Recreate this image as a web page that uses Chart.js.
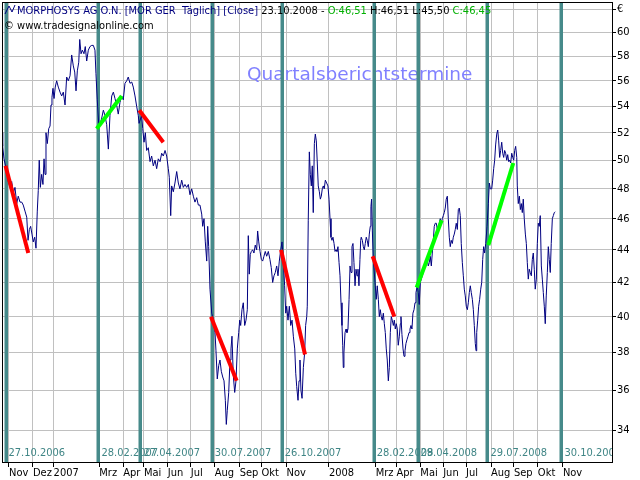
<!DOCTYPE html>
<html><head><meta charset="utf-8">
<script src="https://cdn.jsdelivr.net/npm/chart.js@4"></script>
<style>html,body{margin:0;padding:0;background:#fff}canvas{display:block}</style>
</head><body>
<canvas id="c" width="640" height="480"></canvas>
<script>
// Trading-day index (0 = 01.11.2006) and close prices in EUR
const priceDay = [-6.4,-5.8,-4.6,-2.1,-0.6,0.9,2.5,4.0,5.5,7.1,8.5,10.1,11.7,13.1,14.7,16.3,17.5,18.7,19.9,21.1,22.3,23.6,24.8,26.0,26.9,27.8,28.8,30.0,31.2,32.2,33.1,34.0,35.2,36.5,37.7,38.6,39.5,40.4,41.4,42.5,43.8,45.3,46.9,48.4,49.9,51.5,53.0,54.5,56.1,57.6,59.1,60.4,61.6,62.8,64.1,65.0,66.2,67.4,68.9,70.1,71.4,72.9,74.4,76.0,77.5,79.0,79.9,81.1,82.4,83.6,85.2,86.7,88.2,89.8,91.3,92.8,94.4,95.9,97.4,98.9,100.4,102.0,103.6,105.0,106.6,108.2,109.6,111.2,112.8,114.2,115.8,117.3,118.8,119.5,121.9,122.9,124.1,125.3,126.5,128.0,129.6,131.1,132.6,134.2,135.7,137.2,138.8,140.3,141.8,143.4,144.9,146.4,147.3,148.6,149.5,151.0,152.5,154.1,155.6,157.1,158.7,160.2,161.7,163.3,164.8,166.3,167.9,169.4,170.9,172.5,174.0,175.5,177.1,178.0,179.2,180.4,181.7,182.6,183.5,184.7,186.3,187.8,189.3,190.2,191.4,192.7,193.9,195.1,196.4,197.6,198.8,199.7,200.6,201.9,203.1,204.0,204.9,206.1,207.4,208.6,209.8,211.1,212.0,212.9,214.1,215.3,216.6,217.8,219.0,219.9,220.8,221.7,222.7,223.9,225.1,226.3,227.6,228.5,229.5,230.7,231.9,233.1,234.3,235.5,236.8,238.3,239.8,241.0,242.3,243.5,244.7,246.0,247.2,248.4,249.7,250.9,252.1,253.3,254.3,255.2,256.4,257.6,258.9,260.1,261.3,262.6,263.5,264.4,265.6,266.5,267.4,268.3,269.3,270.5,271.7,272.6,273.6,274.1,275.0,276.0,276.9,277.8,278.7,279.6,280.6,281.5,282.4,283.3,284.2,285.2,286.1,287.0,287.9,288.8,289.7,290.7,291.9,293.1,294.1,295.0,295.9,296.8,297.7,298.7,299.6,300.5,301.4,302.3,303.3,304.2,305.1,306.0,306.7,307.2,307.8,308.8,309.7,310.6,311.5,312.5,313.4,314.3,315.2,316.1,317.0,318.0,318.9,319.8,320.7,321.6,322.5,323.2,323.7,324.7,325.6,326.5,327.4,328.3,329.2,330.2,331.1,332.0,332.6,333.2,333.9,334.8,336.6,337.5,338.4,339.4,340.3,341.2,342.1,343.0,344.0,344.9,345.8,346.7,347.6,348.6,349.5,350.4,351.3,352.2,353.2,354.1,355.0,355.9,356.8,357.7,358.7,359.6,360.2,361.1,362.1,363.0,363.9,364.8,365.7,366.7,367.6,368.5,369.4,370.3,371.2,372.2,373.1,374.0,375.2,376.1,377.0,378.0,378.9,379.8,380.7,381.6,382.5,383.5,384.4,385.3,386.2,387.1,388.1,389.0,389.9,390.8,391.7,392.7,393.6,394.5,395.4,396.3,397.3,398.2,399.1,400.0,400.9,401.8,402.8,403.7,404.6,405.5,406.4,407.4,408.3,409.2,410.1,411.0,412.0,412.9,413.8,414.7,415.6,416.6,417.5,418.4,419.3,420.2,421.2,422.1,423.0,423.9,424.8,425.8,426.7,427.6,428.5,429.2,429.8,430.7,431.6,432.5,433.5,434.4,435.3,436.2,437.1,438.1,439.3,440.5,441.4,442.3,443.6,444.5,445.4,446.3,447.2,448.2,449.1,450.0,450.9,451.8,452.8,453.7,454.6,455.5,456.4,457.4,458.3,459.2,460.1,461.0,462.0,462.9,463.8,464.7,465.6,466.6,467.1,468.0,469.0,469.9,470.8,471.7,472.6,473.5,474.5,475.4,476.3,477.2,478.1,479.0,480.0,480.9,481.8,482.7,483.6,484.6,485.5,486.4,487.3,488.2,489.2,490.1,491.0,491.9,492.8,493.7,494.7,495.6,496.5,497.4,498.3,499.3,500.2,501.1,502.0];
const priceClose = [52.0,51.0,50.1,49.2,48.5,48.1,48.5,47.7,48.1,47.0,47.5,47.1,47.1,46.9,46.5,46.1,44.6,45.3,45.5,45.0,44.5,44.8,44.1,46.5,47.9,50.0,48.1,49.0,48.3,50.1,49.0,52.0,51.2,52.3,52.5,54.1,54.7,55.4,54.6,55.5,56.0,55.5,55.1,54.8,55.1,54.1,56.3,56.0,56.4,58.1,57.2,56.7,55.2,56.8,57.5,59.4,58.2,58.5,58.2,58.8,57.6,58.5,58.8,58.9,58.9,58.5,56.6,54.5,52.7,52.6,53.1,53.7,53.3,52.6,50.8,53.3,54.8,55.1,54.6,54.1,53.4,54.3,54.8,54.5,55.8,56.0,56.3,55.8,55.9,55.5,54.8,54.0,53.3,52.7,53.3,52.3,51.3,52.0,50.7,50.9,49.9,50.3,49.6,50.0,49.4,50.1,49.9,50.5,50.3,50.7,50.3,49.4,48.8,46.2,48.2,47.8,48.4,49.2,48.4,48.0,48.6,48.1,48.3,48.1,48.3,47.6,48.0,47.5,47.1,47.4,46.9,46.9,46.3,45.5,46.0,44.5,43.3,45.5,44.2,41.6,40.2,39.8,39.1,38.1,36.6,37.3,37.6,37.0,36.7,36.5,35.5,34.3,35.0,35.9,37.6,38.2,38.9,36.8,35.9,36.5,38.2,39.1,39.8,39.5,40.4,40.8,39.5,39.8,40.4,44.9,42.5,43.7,43.9,44.0,43.8,44.3,44.0,45.2,44.5,43.9,43.4,43.3,43.6,43.9,43.6,43.9,43.4,42.9,42.0,42.4,42.6,43.0,42.4,43.3,44.0,44.5,43.3,41.8,40.2,40.6,39.8,40.6,39.5,39.8,38.9,38.2,36.9,36.2,35.5,36.5,37.6,36.0,35.6,37.2,38.0,39.5,40.0,40.6,45.9,50.6,49.0,48.2,49.6,46.4,51.2,51.9,51.4,49.8,48.2,47.8,47.3,47.5,48.0,48.2,48.0,48.6,48.4,48.2,47.3,46.0,44.8,44.6,44.8,44.4,43.9,44.0,43.9,44.2,43.2,42.4,40.8,39.5,38.4,37.2,38.0,39.1,39.3,39.1,39.3,41.0,43.0,42.6,44.2,44.4,43.2,41.8,42.8,42.4,42.8,41.8,43.4,44.6,44.8,44.6,44.2,44.0,44.4,44.8,44.6,44.2,45.0,45.5,46.8,47.3,45.2,43.4,41.8,41.0,41.8,41.0,40.0,40.4,40.0,39.8,40.2,39.6,39.1,38.2,37.6,36.5,37.2,39.1,40.0,39.8,39.5,39.8,39.3,39.6,39.3,38.4,38.9,39.6,40.0,39.0,38.2,37.8,38.1,38.5,38.7,38.9,39.1,39.3,39.5,39.3,40.2,40.4,40.8,41.4,41.8,41.4,40.7,42.0,42.2,42.4,42.6,42.8,43.0,43.2,43.4,43.0,43.2,43.6,43.0,43.8,44.6,45.5,45.7,45.7,45.3,45.5,45.7,46.0,45.7,46.0,46.2,46.4,46.7,47.3,47.5,46.0,44.8,44.2,44.6,44.4,44.8,45.0,45.3,45.7,45.3,46.6,46.7,46.2,44.4,43.2,42.4,41.6,41.2,40.6,40.4,40.8,41.4,41.8,41.4,41.0,40.4,39.5,38.5,38.1,39.1,39.8,40.6,41.0,41.6,42.0,43.4,44.2,43.8,44.4,45.5,47.0,48.4,48.0,48.0,48.6,49.4,50.0,51.1,51.9,52.2,51.4,50.2,50.7,51.3,50.5,50.2,50.7,50.5,50.0,50.4,49.9,50.0,49.8,50.5,50.2,50.0,50.7,51.0,50.2,48.2,47.0,47.5,46.6,47.0,46.4,47.3,46.0,45.0,44.4,43.2,42.2,42.8,42.6,42.4,43.4,43.8,42.8,41.6,42.2,44.4,45.7,45.5,46.2,43.0,42.2,41.4,40.6,39.6,41.2,42.6,44.2,43.4,42.6,44.4,46.0,46.2,46.4,46.45];

// Month ticks on the trading-day axis
const monthTickDay = [0,22,41,83,105,124,146,167,189,212,232,255,294,337,356,378,399,420,443,464,486,509];
const monthTickLabel = ['Nov','Dez','2007','Mrz','Apr','Mai','Jun','Jul','Aug','Sep','Okt','Nov','2008','Mrz','Apr','Mai','Jun','Jul','Aug','Sep','Okt','Nov'];

// Price axis ticks
const yTickValues = [34,36,38,40,42,44,46,48,50,52,54,56,58,60,62];
const yTickLabels = ['34','36','38','40','42','44','46','48','50','52','54','56','58','60','€'];

// Quarterly report dates
const reportDay = [-3.2,82.2,120.8,186.3,250.6,335.1,375.4,439.7,507.7];
const reportLabel = ['27.10.2006','28.02.2007','27.04.2007','30.07.2007','26.10.2007','28.02.2008','29.04.2008','29.07.2008','30.10.2008'];

// Reaction segments after each report
const trendFromDay = [-3.2,80.6,119.7,185.6,250.0,334.2,374.6,440.5];
const trendFromValue = [49.6,52.3,53.7,40.0,44.0,43.6,41.7,44.3];
const trendToDay = [17.7,103.6,141.8,209.2,272.0,354.1,397.6,463.4];
const trendToValue = [43.8,54.8,51.3,36.5,37.9,40.0,45.9,49.8];
const trendColor = ['#ff0000','#00ff00','#ff0000','#ff0000','#ff0000','#ff0000','#00ff00','#00ff00'];

const titleText = 'Quartalsberichtstermine';
const headerParts = [
  ['MORPHOSYS AG O.N. [MOR GER  Täglich] [Close] ', '#000080'],
  ['23.10.2008 - ', '#000000'],
  ['O:46,51', '#00b000'],
  [' H:46,51 L:45,50 ', '#000000'],
  ['C:46,45', '#00b000']
];
const copyrightText = '© www.tradesignalonline.com';

const FONT = '"DejaVu Sans Condensed", "DejaVu Sans", sans-serif';

const datasets = [{
  label: 'Close',
  data: priceDay.map((d, i) => ({x: d, y: priceClose[i]})),
  borderColor: '#000080',
  borderWidth: 1,
  pointRadius: 0,
  tension: 0,
  order: 2
}];
trendFromDay.forEach((d, i) => {
  datasets.push({
    label: 'trend' + i,
    data: [{x: d, y: trendFromValue[i]}, {x: trendToDay[i], y: trendToValue[i]}],
    borderColor: trendColor[i],
    borderWidth: 4,
    pointRadius: 0,
    borderCapStyle: 'butt',
    order: 1
  });
});

const decor = {
  id: 'decor',
  beforeDatasetsDraw(chart) {
    const {ctx, chartArea: a, scales: {x}} = chart;
    ctx.save();
    ctx.beginPath();
    ctx.rect(a.left, a.top, a.right - a.left, a.bottom - a.top);
    ctx.clip();
    // title
    ctx.font = '18.5px "DejaVu Sans", sans-serif';
    ctx.fillStyle = '#8080ff';
    ctx.textBaseline = 'alphabetic';
    ctx.textAlign = 'left';
    ctx.fillText(titleText, 247, 80);
    // report lines
    ctx.fillStyle = '#468a8a';
    reportDay.forEach(d => {
      const px = x.getPixelForValue(d);
      ctx.fillRect(Math.round(px) - 1.5, a.top, 3.5, a.bottom - a.top);
    });
    // report labels
    ctx.font = '11px ' + FONT;
    ctx.fillStyle = '#3f8585';
    reportDay.forEach((d, i) => {
      const px = x.getPixelForValue(d);
      ctx.fillText(reportLabel[i], px + 3, 456);
    });
    // header
    ctx.font = '11px ' + FONT;
    let hx = 17;
    headerParts.forEach(([t, c]) => {
      ctx.fillStyle = c;
      ctx.fillText(t, hx, 14);
      hx += ctx.measureText(t).width;
    });
    ctx.fillStyle = '#000';
    ctx.fillText(copyrightText, 4, 29);
    // small chart icon
    ctx.strokeStyle = '#000080';
    ctx.lineWidth = 1;
    ctx.beginPath();
    ctx.moveTo(5, 14); ctx.lineTo(9, 6); ctx.lineTo(12, 12); ctx.lineTo(15, 5);
    ctx.stroke();
    ctx.restore();
  },
  afterDraw(chart) {
    const {ctx, chartArea: a} = chart;
    ctx.save();
    ctx.strokeStyle = '#000';
    ctx.lineWidth = 1;
    ctx.strokeRect(a.left + 0.5, a.top + 0.5, a.right - a.left, a.bottom - a.top);
    ctx.restore();
  }
};

new Chart(document.getElementById('c'), {
  type: 'line',
  data: {datasets},
  options: {
    responsive: false,
    animation: false,
    devicePixelRatio: 1,
    layout: {padding: {left: 2, top: 2, right: 0, bottom: 0}},
    plugins: {legend: {display: false}, tooltip: {enabled: false}, title: {display: false}},
    scales: {
      x: {
        type: 'linear',
        position: 'bottom',
        min: -6.43,
        max: 554.13,
        afterBuildTicks: s => { s.ticks = monthTickDay.map(v => ({value: v})); },
        afterFit: s => { s.height = 18; s.paddingLeft = 0; s.paddingRight = 0; },
        ticks: {
          autoSkip: false, maxRotation: 0, minRotation: 0, align: 'start', padding: 0,
          color: '#000', font: {size: 11, family: FONT},
          callback: (v, i) => monthTickLabel[i]
        },
        grid: {color: '#c0c0c0', tickColor: '#000', tickLength: 5, lineWidth: 1},
        border: {display: true, color: '#000'}
      },
      y: {
        type: 'logarithmic',
        position: 'right',
        min: 32.51,
        max: 62.66,
        afterBuildTicks: s => { s.ticks = yTickValues.map(v => ({value: v})); },
        afterFit: s => { s.width = 28; s.paddingTop = 0; s.paddingBottom = 0; },
        ticks: {
          padding: 1, color: '#000', font: {size: 11, family: FONT},
          callback: (v, i) => yTickLabels[i]
        },
        grid: {color: '#c0c0c0', tickColor: '#000', tickLength: 4, lineWidth: 1},
        border: {display: true, color: '#000'}
      }
    }
  },
  plugins: [decor]
});
</script>
</body></html>
